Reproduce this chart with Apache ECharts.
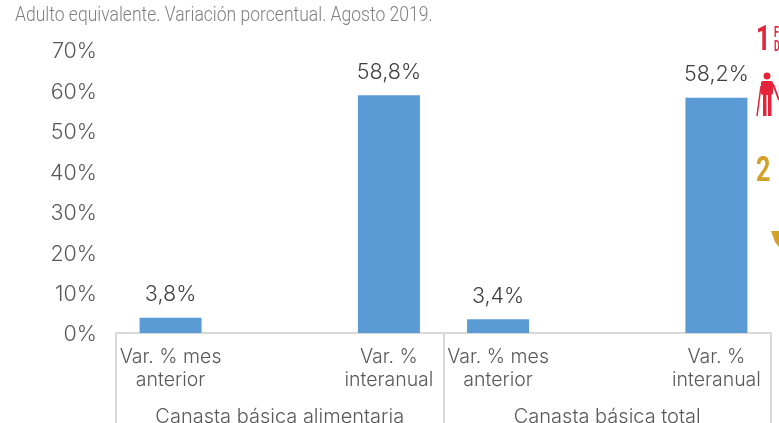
<!DOCTYPE html>
<html>
<head>
<meta charset="utf-8">
<style>html,body{margin:0;padding:0;background:#fff}#c{width:779px;height:423px}</style>
<script src="https://cdn.jsdelivr.net/npm/echarts@6/dist/echarts.min.js"></script>
</head>
<body>
<div id="c"></div>
<script>
const titleText = "Adulto equivalente. Variación porcentual. Agosto 2019.";
const categories = ["Var. % mes\nanterior", "", "Var. %\ninteranual", "Var. % mes\nanterior", "", "Var. %\ninteranual"];
const groups = ["Canasta básica alimentaria", "Canasta básica total"];
const values = [3.8, null, 58.8, 3.4, null, 58.2];
const F = "Inter, 'Open Sans', sans-serif";
const chart = echarts.init(document.getElementById('c'), null, {renderer: 'canvas'});
chart.setOption({
  animation: false,
  backgroundColor: '#ffffff',
  grid: {left: 116, right: 8, top: 50, bottom: 90, outerBoundsMode: 'none'},
  xAxis: [
    {type: 'category', data: categories, position: 'bottom',
     axisLine: {lineStyle: {color: '#D9D9D9', width: 2}}, axisTick: {show: false},
     axisLabel: {interval: 0, color: '#595959', fontFamily: F, fontSize: 19.5, fontWeight: 300, lineHeight: 23, margin: 13}},
    {type: 'category', data: groups, position: 'bottom',
     axisLine: {show: false},
     axisTick: {show: true, length: 92, lineStyle: {color: '#D9D9D9', width: 2}},
     axisLabel: {interval: 0, color: '#595959', fontFamily: F, fontSize: 20, fontWeight: 300, margin: 74}}
  ],
  yAxis: {type: 'value', min: 0, max: 70, interval: 10,
    axisLine: {show: false}, axisTick: {show: false}, splitLine: {show: false},
    axisLabel: {formatter: '{a|{value}%}', margin: 19,
      rich: {a: {color: '#595959', fontFamily: F, fontSize: 21.5, fontWeight: 300, padding: [4, 0, 0, 0]}}}},
  series: [{type: 'bar', data: values, barWidth: 62, itemStyle: {color: '#5B9BD5'},
    label: {show: true, position: 'top', distance: 12, color: '#404040', fontFamily: F, fontSize: 21.5, fontWeight: 300,
      formatter: p => p.value.toFixed(1).replace('.', ',') + '%'}}],
  graphic: [
    {type: 'text', x: 15, y: 5, scaleX: 0.855, style: {text: titleText, fill: '#7f7f7f', font: "300 20.5px Roboto, sans-serif"}},
    {type: 'text', x: 756, y: 24, scaleX: 0.72, style: {text: '1', fill: '#E5243B', font: "bold 35px Roboto, sans-serif"}},
    {type: 'text', x: 774, y: 26, scaleX: 0.6, style: {text: 'F\nD', fill: '#E5243B', lineHeight: 14, font: "bold 15px Roboto, sans-serif"}},
    {type: 'circle', shape: {cx: 767, cy: 76, r: 3.5}, style: {fill: '#E5243B'}},
    {type: 'rect', shape: {x: 761, y: 81, width: 12, height: 14, r: 2}, style: {fill: '#E5243B'}},
    {type: 'rect', shape: {x: 763, y: 95, width: 3.5, height: 21}, style: {fill: '#E5243B'}},
    {type: 'rect', shape: {x: 768, y: 95, width: 3.5, height: 21}, style: {fill: '#E5243B'}},
    {type: 'line', shape: {x1: 761, y1: 86, x2: 757, y2: 116}, style: {stroke: '#E5243B', lineWidth: 1.5}},
    {type: 'line', shape: {x1: 773, y1: 84, x2: 779, y2: 100}, style: {stroke: '#E5243B', lineWidth: 2}},
    {type: 'text', x: 756, y: 155, scaleX: 0.72, style: {text: '2', fill: '#D3A029', font: "bold 35px Roboto, sans-serif"}},
    {type: 'polygon', shape: {points: [[771, 231], [779, 231], [779, 247], [775, 242]]}, style: {fill: '#D3A029'}}
  ]
});
</script>
</body>
</html>
